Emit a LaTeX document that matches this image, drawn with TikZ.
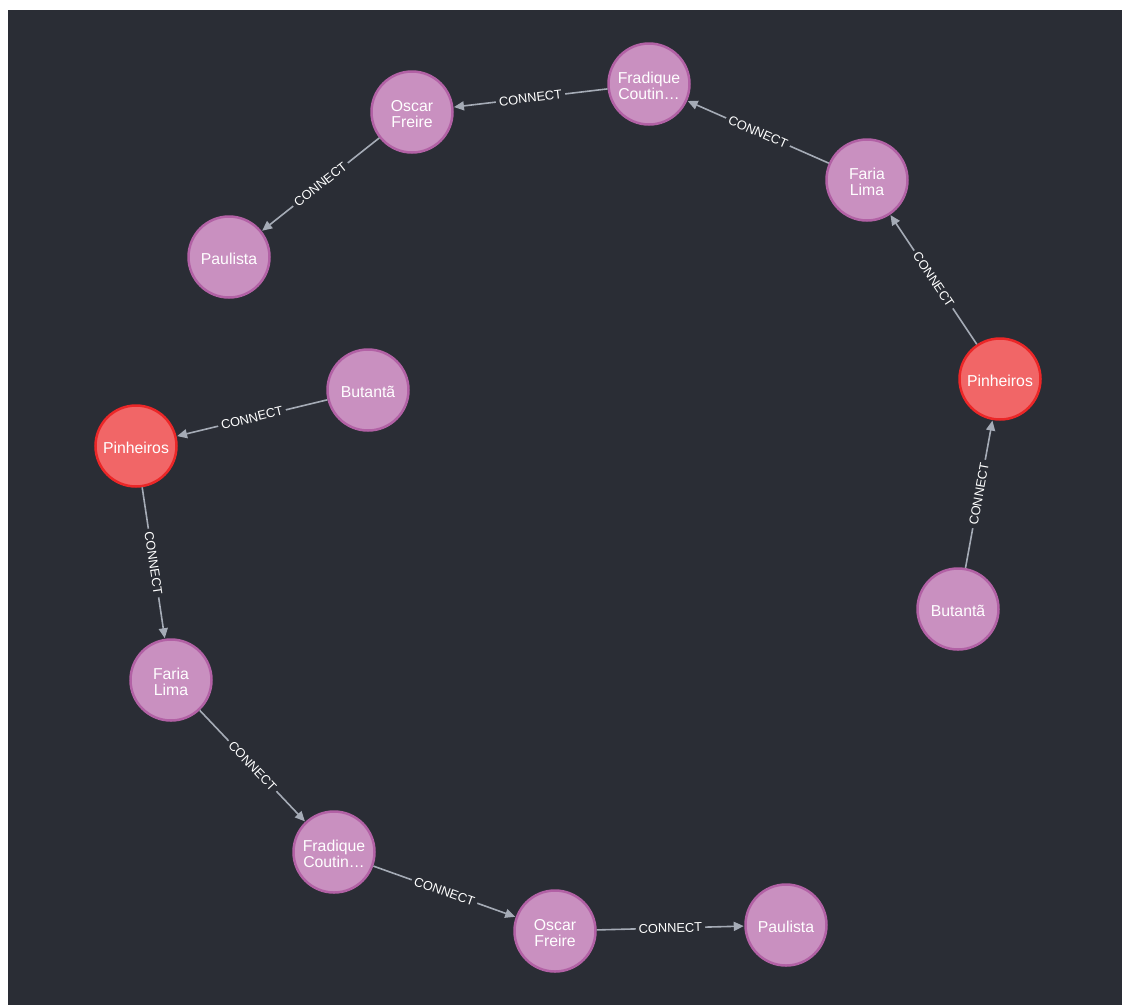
\documentclass[tikz,border=0pt]{standalone}
\usepackage{fontspec}
\setmainfont{Liberation Sans}
\usetikzlibrary{arrows.meta}
\definecolor{bg}{HTML}{2A2D35}
\definecolor{pinkfill}{HTML}{C990C0}
\definecolor{pinkline}{HTML}{B261A5}
\definecolor{redfill}{HTML}{F16667}
\definecolor{redline}{HTML}{EB2728}
\definecolor{edgecol}{HTML}{A5ABB6}
\tikzset{
  station/.style={circle, minimum size=81pt, inner sep=0pt, line width=2.5pt,
    draw=pinkline, fill=pinkfill},
  hub/.style={station, draw=redline, fill=redfill},
  nt/.style={text=white, align=center, inner sep=0pt, yshift=-2pt,
    font=\fontsize{15.8}{16.5}\selectfont},
  rel/.style={draw=edgecol, line width=1.6pt,
    -{Triangle[length=10pt,width=9pt]}, shorten >=0.5pt},
  lbl/.style={sloped, midway, fill=bg, text=white, inner sep=3pt,
    font=\fontsize{12.8}{13}\selectfont}
}
\begin{document}
\begin{tikzpicture}[x=1pt,y=-1pt]
\useasboundingbox (0,0) rectangle (1122,1005);
\fill[bg] (8,10) rectangle (1122,1005);
% top-right cluster
\node[station, label={[nt]center:Oscar\\Freire}] (of1) at (412,112) {};
\node[station, label={[nt]center:Fradique\\Coutin…}] (fc1) at (649,84) {};
\node[station, label={[nt]center:Faria\\Lima}] (fl1) at (867,180) {};
\node[hub, label={[nt]center:Pinheiros}] (pi1) at (1000,379) {};
\node[station, label={[nt]center:Butantã}] (bu1) at (958,609) {};
\node[station, label={[nt]center:Paulista}] (pa1) at (229,257) {};
% left-bottom cluster
\node[station, label={[nt]center:Butantã}] (bu2) at (368,390) {};
\node[hub, label={[nt]center:Pinheiros}] (pi2) at (136,446) {};
\node[station, label={[nt]center:Faria\\Lima}] (fl2) at (171,680) {};
\node[station, label={[nt]center:Fradique\\Coutin…}] (fc2) at (334,852) {};
\node[station, label={[nt]center:Oscar\\Freire}] (of2) at (555,931) {};
\node[station, label={[nt]center:Paulista}] (pa2) at (786,925) {};
% relationships
\draw[rel] (fc1) -- node[lbl] {CONNECT} (of1);
\draw[rel] (of1) -- node[lbl] {CONNECT} (pa1);
\draw[rel] (fl1) -- node[lbl] {CONNECT} (fc1);
\draw[rel] (pi1) -- node[lbl] {CONNECT} (fl1);
\draw[rel] (bu1) -- node[lbl] {CONNECT} (pi1);
\draw[rel] (bu2) -- node[lbl] {CONNECT} (pi2);
\draw[rel] (pi2) -- node[lbl] {CONNECT} (fl2);
\draw[rel] (fl2) -- node[lbl] {CONNECT} (fc2);
\draw[rel] (fc2) -- node[lbl] {CONNECT} (of2);
\draw[rel] (of2) -- node[lbl] {CONNECT} (pa2);
\end{tikzpicture}
\end{document}
